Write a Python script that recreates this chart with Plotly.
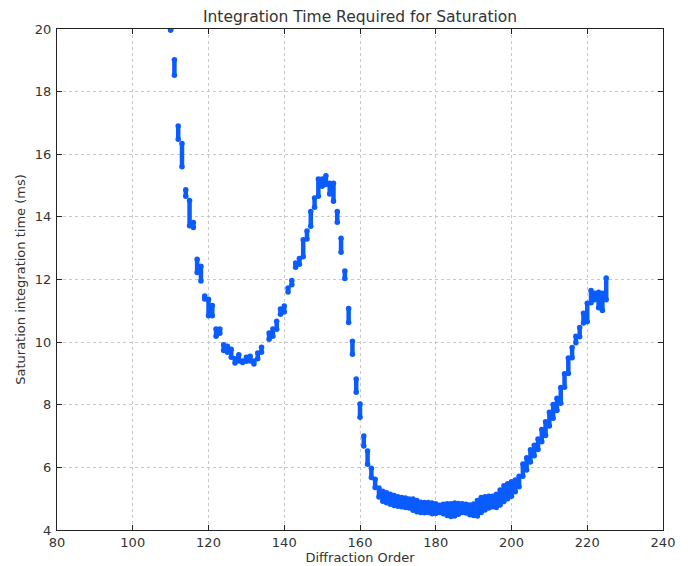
import plotly.graph_objects as go

# Diffraction orders and the range of saturation integration times (ms) seen for each
orders = [110, 111, 112, 113, 114, 115, 116, 117, 118, 119, 120, 121, 122, 123, 124,
          125, 126, 127, 128, 129, 130, 131, 132, 133, 134, 136, 137, 138, 139, 140,
          141, 142, 143, 144, 145, 146, 147, 148, 149, 150, 151, 152, 153, 154, 155,
          156, 157, 158, 159, 160, 161, 162, 163, 164, 165, 166, 167, 168, 169, 170,
          171, 172, 173, 174, 175, 176, 177, 178, 179, 180, 181, 182, 183, 184, 185,
          186, 187, 188, 189, 190, 191, 192, 193, 194, 195, 196, 197, 198, 199, 200,
          201, 202, 203, 204, 205, 206, 207, 208, 209, 210, 211, 212, 213, 214, 215,
          216, 217, 218, 219, 220, 221, 222, 223, 224, 225]
t_low = [19.97, 18.52, 16.48, 15.60, 14.66, 13.72, 13.66, 12.22, 11.95, 11.38, 10.84, 10.84, 10.19, 10.28, 9.73,
         9.68, 9.52, 9.33, 9.40, 9.35, 9.39, 9.40, 9.30, 9.47, 9.68, 10.09, 10.19, 10.41, 10.89, 10.96,
         11.60, 11.83, 12.39, 12.49, 12.73, 13.29, 13.70, 14.31, 14.66, 14.98, 15.03, 14.73, 14.50, 13.83, 12.87,
         12.03, 10.63, 9.61, 8.40, 7.60, 6.68, 6.10, 5.68, 5.36, 5.05, 4.92, 4.87, 4.82, 4.78, 4.76,
         4.74, 4.72, 4.70, 4.63, 4.58, 4.56, 4.55, 4.56, 4.52, 4.53, 4.56, 4.52, 4.46, 4.43, 4.45,
         4.50, 4.56, 4.54, 4.49, 4.46, 4.45, 4.56, 4.64, 4.70, 4.74, 4.72, 4.80, 4.91, 5.00, 5.08,
         5.22, 5.38, 5.72, 5.92, 6.17, 6.37, 6.57, 6.82, 7.02, 7.32, 7.57, 7.82, 8.05, 8.56, 9.00,
         9.50, 9.98, 10.17, 10.61, 10.65, 11.26, 11.35, 11.10, 11.01, 11.35]
t_high = [19.97, 19.02, 16.90, 16.34, 14.87, 14.52, 13.82, 12.65, 12.42, 11.47, 11.37, 11.17, 10.42, 10.42, 9.92,
          9.87, 9.77, 9.47, 9.60, 9.40, 9.52, 9.55, 9.40, 9.65, 9.84, 10.29, 10.42, 10.67, 11.06, 11.15,
          11.73, 11.97, 12.53, 12.67, 13.27, 13.55, 14.17, 14.60, 15.21, 15.21, 15.31, 15.07, 15.07, 14.17, 13.32,
          12.27, 11.07, 10.03, 8.82, 8.02, 7.00, 6.52, 5.97, 5.62, 5.34, 5.24, 5.19, 5.14, 5.10, 5.06,
          5.04, 5.02, 4.99, 4.99, 4.94, 4.89, 4.88, 4.88, 4.86, 4.84, 4.79, 4.82, 4.84, 4.84, 4.86,
          4.85, 4.84, 4.82, 4.80, 4.83, 4.94, 5.04, 5.06, 5.08, 5.08, 5.14, 5.28, 5.41, 5.48, 5.54,
          5.60, 5.72, 6.11, 6.31, 6.56, 6.71, 6.91, 7.21, 7.46, 7.76, 8.01, 8.21, 8.55, 8.99, 9.49,
          9.83, 10.19, 10.47, 10.92, 11.24, 11.65, 11.56, 11.59, 11.56, 12.05]

x_ticks = [80, 100, 120, 140, 160, 180, 200, 220, 240]
y_ticks = [4, 6, 8, 10, 12, 14, 16, 18, 20]

xs, ys = [], []
for o, lo, hi in zip(orders, t_low, t_high):
    xs += [o, o, None]
    ys += [lo, hi, None]

BLUE = "#0a5cff"
fig = go.Figure()
fig.add_trace(go.Scatter(
    x=xs, y=ys, mode="lines+markers",
    line=dict(color=BLUE, width=4.5),
    marker=dict(color=BLUE, size=5.5, line=dict(width=0)),
    connectgaps=False, hoverinfo="skip", showlegend=False,
))

FONT = "DejaVu Sans"
axis_common = dict(
    showline=True, linecolor="#222222", linewidth=1, mirror="ticks",
    ticks="inside", ticklen=5, tickcolor="#222222", tickwidth=1,
    showgrid=True, gridcolor="#c8c8c8", griddash="dot", gridwidth=1,
    zeroline=False, automargin=False,
    tickfont=dict(family=FONT, size=13, color="#333333"),
)
fig.update_layout(
    width=688, height=566,
    margin=dict(l=57, r=25, t=29, b=36),
    paper_bgcolor="white", plot_bgcolor="white",
    title=dict(text="Integration Time Required for Saturation",
               x=0.5, xanchor="center", xref="paper",
               y=1 - 17 / 566, yref="container", yanchor="middle",
               font=dict(family=FONT, size=15.5, color="#333333")),
    xaxis=dict(range=[80, 240], tickvals=x_ticks, ticktext=[str(v) for v in x_ticks],
               ticklabelstandoff=0,
               title=dict(text="Diffraction Order", standoff=2,
                          font=dict(family=FONT, size=13, color="#333333")),
               **axis_common),
    yaxis=dict(range=[4, 20], tickvals=y_ticks, ticktext=[str(v) for v in y_ticks],
               ticklabelstandoff=2,
               title=dict(text="Saturation integration time (ms)", standoff=6,
                          font=dict(family=FONT, size=13, color="#333333")),
               **axis_common),
)
fig.write_html("out.html")
